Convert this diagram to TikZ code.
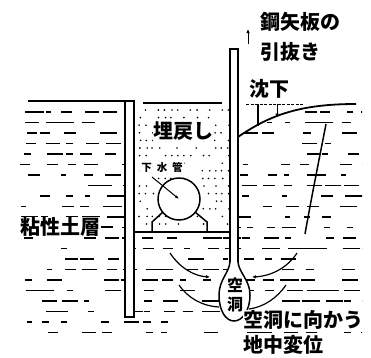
\documentclass[tikz,border=0pt]{standalone}
\usepackage{fontspec}
\newfontfamily\jp{Noto Sans CJK JP}
\usetikzlibrary{arrows.meta}
\begin{document}
\begin{tikzpicture}[x=1pt,y=-1pt,
  soil/.style={line width=1.1pt},
  wall/.style={line width=1.5pt},
  thickline/.style={line width=1.8pt},
  lbl/.style={font=\jp\bfseries\fontsize{20pt}{20pt}\selectfont, inner sep=0.5pt, fill=white, anchor=west},
  smalllbl/.style={font=\jp\bfseries\fontsize{10.5pt}{11pt}\selectfont, inner sep=1pt, fill=white},
  arrowline/.style={line width=1pt,-{Latex[length=4pt,width=3.5pt]}},
]
\useasboundingbox (0,0) rectangle (371,357);

% clay layer: rows of short horizontal dashes
\begin{scope}
  \clip (20,106) -- (125,106) -- (125,236) -- (238,236) -- (238,137)
        .. controls (270,115) and (300,104) .. (356,104) -- (362,104)
        -- (362,340) -- (20,340) -- cycle;
  \pgfmathsetseed{11}
  \foreach \k in {0,...,21}{
    \pgfmathsetmacro\yy{112+10.5*\k}
    \foreach \xs in {20,40,...,360}{
      \pgfmathsetmacro\xa{\xs+rnd*8}
      \pgfmathsetmacro\ll{5+rnd*14}
      \pgfmathsetmacro\keep{rnd}
      \ifdim\keep pt<0.72pt
        \draw[soil] (\xa,\yy) -- ++(\ll,0);
      \fi
    }
  }
\end{scope}

% backfill stipple
\begin{scope}
  \clip (136,107) rectangle (229,231);
  \pgfmathsetseed{5}
  \foreach \j in {0,...,15}{
    \pgfmathsetmacro\yy{110+7.6*\j}
    \foreach \i in {0,...,14}{
      \pgfmathsetmacro\xx{139+6.3*\i+rnd*2}
      \pgfmathsetmacro\keep{rnd}
      \ifdim\keep pt<0.6pt
        \fill (\xx,\yy) circle[radius=0.9pt];
      \fi
    }
  }
\end{scope}

% ground surface and backfill top
\draw[thickline] (28,101) -- (125,101);
\draw[wall] (143,103) -- (222,103);

% left sheet pile (left in place)
\draw[wall, fill=white] (125,101) rectangle (134,317);
% bottom of backfill
\draw[wall] (134,232) -- (230,232);

% cavity left behind the extracted sheet pile
\fill[white] (230,49) rectangle (238,262);
\draw[wall, fill=white] (230,262) .. controls (229,273) and (219,280) .. (219,295)
  .. controls (219,311) and (226,321) .. (234,321)
  .. controls (242,321) and (250,311) .. (250,295)
  .. controls (250,280) and (239,273) .. (238,262);
% right sheet pile being extracted
\draw[wall] (230,262) -- (230,49) -- (238,49) -- (238,262);
\coordinate (pull0) at (248,44);
\coordinate (pull1) at (248,29);
\draw[arrowline] (pull0) -- (pull1);

% sewer pipe and cradle
\coordinate (pc) at (179,199);
\draw[wall, fill=white] (pc) circle[radius=21pt];
\draw[wall] (152,232) -- (152,222) -- (163,212);
\draw[wall] (207,232) -- (207,222) -- (195,212);

% settled ground surface
\draw[thickline] (238,137) .. controls (270,115) and (300,104) .. (356,104);
\draw[line width=0.6pt, dash pattern=on 3pt off 1.5pt] (246,104) -- (303,104);
\coordinate (s0) at (258,104);
\coordinate (s1) at (258,126);
\draw[wall] (s0) -- (s1);
\coordinate (a0) at (277,104);
\coordinate (a1) at (277,117.5);
\draw[arrowline] (a0) -- (a1);

% slip line
\draw[wall] (326,124) .. controls (318,165) and (311,200) .. (305,234);

% ground movement toward the cavity
\draw[line width=1.2pt,-{Latex[length=4pt,width=3.5pt]}] (170,253) .. controls (180,268) and (194,276) .. (210,277);
\draw[line width=1.2pt] (179,285) .. controls (188,298) and (202,306) .. (219,307);
\draw[line width=1.2pt,-{Latex[length=4pt,width=3.5pt]}] (297,253) .. controls (288,267) and (272,276) .. (252,277);
\draw[line width=1.2pt] (286,285) .. controls (277,298) and (264,307) .. (249,309);

% labels
\node[lbl] (kouyaita) at (260,22) {鋼矢板の};
\node[lbl] (hikinuki) at (260,52) {引抜き};
\node[lbl] (chinka) at (249,89) {沈下};
\node[lbl, anchor=center] (umemodoshi) at (183,131) {埋戻し};
\node[smalllbl] (gesui) at (162,167) {下\hspace{5pt}水\hspace{5pt}管};
\coordinate (ls) at (152,177);
\draw[line width=1pt,-{Latex[length=4pt,width=3pt]}] (ls) -- (pc);
\node[lbl] (nendo) at (20,227) {粘性土層};
\draw[wall] (nendo.east) -- ++(12,0);
\node[font=\jp\bfseries\fontsize{16pt}{16pt}\selectfont, inner sep=0pt] (kuu) at (235,285) {空};
\node[font=\jp\bfseries\fontsize{16pt}{16pt}\selectfont, inner sep=0pt] (dou) at (235,305) {洞};
\node[lbl] (mukau) at (243,320) {空洞に向かう};
\node[lbl] (henni) at (243,345) {地中変位};
\end{tikzpicture}
\end{document}
